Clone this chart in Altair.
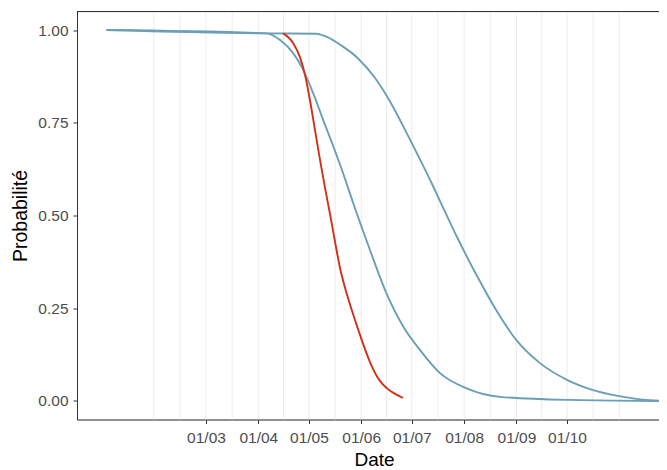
import altair as alt
import pandas as pd

# --- data ---
a_dates = ["2021-01-01", "2021-04-06", "2021-04-13T22:00:00Z", "2021-04-21T19:00:00Z",
           "2021-04-27T17:00:00Z", "2021-05-03T14:00:00Z", "2021-05-09T12:00:00Z",
           "2021-05-15T12:00:00Z", "2021-05-21T10:00:00Z", "2021-05-27T07:00:00Z",
           "2021-06-06T05:00:00Z", "2021-06-16", "2021-06-26", "2021-07-05T22:00:00Z",
           "2021-07-17T17:00:00Z", "2021-08-02T12:00:00Z", "2021-08-22T07:00:00Z",
           "2021-09-30T19:00:00Z", "2021-11-29", "2021-12-21"]
a_vals = [1.000, 0.991, 0.973, 0.937, 0.892, 0.829, 0.757, 0.686, 0.612, 0.533, 0.407, 0.290,
          0.200, 0.137, 0.075, 0.034, 0.011, 0.003, 0.000, 0.000]

b_dates = ["2021-01-01", "2021-04-05", "2021-05-05", "2021-05-12", "2021-05-20", "2021-05-30",
           "2021-06-09", "2021-06-19", "2021-06-28", "2021-07-06", "2021-07-13", "2021-07-21",
           "2021-07-28", "2021-08-09", "2021-08-20", "2021-09-01", "2021-09-15", "2021-10-01",
           "2021-10-16", "2021-11-01", "2021-11-29", "2021-12-21"]
b_vals = [1.000, 0.991, 0.990, 0.981, 0.959, 0.924, 0.872, 0.800, 0.722, 0.650, 0.585, 0.507,
          0.440, 0.334, 0.245, 0.164, 0.102, 0.057, 0.030, 0.013, 0.000, 0.000]

c_dates = ["2021-04-15T19:00:00Z", "2021-04-21T19:00:00Z", "2021-04-25T17:00:00Z",
           "2021-04-28T17:00:00Z", "2021-05-01T14:00:00Z", "2021-05-04T14:00:00Z",
           "2021-05-07T14:00:00Z", "2021-05-10T14:00:00Z", "2021-05-13T12:00:00Z",
           "2021-05-16T12:00:00Z", "2021-05-19T10:00:00Z", "2021-05-22T10:00:00Z",
           "2021-05-26T10:00:00Z", "2021-05-31T07:00:00Z", "2021-06-06T05:00:00Z",
           "2021-06-12T02:00:00Z", "2021-06-16T07:00:00Z", "2021-06-21T02:00:00Z",
           "2021-06-25T19:00:00Z"]
c_vals = [0.991, 0.964, 0.927, 0.879, 0.812, 0.731, 0.650, 0.574, 0.504, 0.429, 0.359, 0.305,
          0.245, 0.178, 0.105, 0.054, 0.034, 0.019, 0.008]

series_names = ["A", "B", "C"]
series_colors = ["#6a9fb5", "#6a9fb5", "#d62f17"]

grid_dates = ["2021-01-29", "2021-02-13T12:00:00Z", "2021-03-01", "2021-03-16T12:00:00Z",
              "2021-04-01", "2021-04-16", "2021-05-01", "2021-05-16T12:00:00Z", "2021-06-01",
              "2021-06-16", "2021-07-01", "2021-07-16T12:00:00Z", "2021-08-01",
              "2021-08-16T12:00:00Z", "2021-09-01", "2021-09-16", "2021-10-01",
              "2021-10-16T12:00:00Z", "2021-11-01"]

tick_months = [3, 4, 5, 6, 7, 8, 9, 10]
y_ticks = [0, 0.25, 0.5, 0.75, 1.0]

# --- build tables ---
rows = []
for name, ds, vs in zip(series_names, [a_dates, b_dates, c_dates], [a_vals, b_vals, c_vals]):
    for d, v in zip(ds, vs):
        rows.append({"date": d, "p": v, "serie": name})
df = pd.DataFrame(rows)
grid_df = pd.DataFrame({"date": grid_dates})

FONT = "Liberation Sans"
W, H = 582, 408

# 1.6869 px per day; plot spans page x 77 .. 659
x_scale = alt.Scale(
    type="utc",
    domain=[alt.DateTime(year=2020, month=12, date=14, hours=12, minutes=43, utc=True),
            alt.DateTime(year=2021, month=11, date=24, hours=12, minutes=48, utc=True)],
)
y_scale = alt.Scale(domain=[-0.05, 1.05], nice=False, zero=False)

x_axis = alt.Axis(
    values=[alt.DateTime(year=2021, month=m, date=1, utc=True) for m in tick_months],
    format="%d/%m", grid=False, tickSize=4, tickColor="#333333", domainColor="#333333",
    labelFont=FONT, labelFontSize=15.5, labelColor="#4d4d4d", labelBaseline="alphabetic",
    labelPadding=18.5, labelFlush=False, labelOverlap=False,
    title="Date", titleFont=FONT, titleFontSize=19, titleColor="#000000",
    titleFontWeight="normal", titleBaseline="alphabetic", titleX=297, titleY=46,
    titleAlign="center",
)
y_axis = alt.Axis(
    values=y_ticks, format=".2f", grid=False, tickSize=4, tickColor="#333333",
    domainColor="#333333", labelFont=FONT, labelFontSize=15.5, labelColor="#4d4d4d",
    labelPadding=5, title="Probabilité", titleFont=FONT, titleFontSize=19.5,
    titleColor="#000000", titleFontWeight="normal", titleBaseline="alphabetic",
    titleX=-51, titleY=204, titleAlign="center", titleAngle=270,
)

grid = alt.Chart(grid_df).mark_rule(color="#ebebeb", strokeWidth=1).encode(
    x=alt.X("date:T", scale=x_scale, axis=x_axis)
)

lines = alt.Chart(df).mark_line(strokeWidth=1.9, interpolate="monotone", clip=True).encode(
    x=alt.X("date:T", scale=x_scale, axis=x_axis),
    y=alt.Y("p:Q", scale=y_scale, axis=y_axis),
    color=alt.Color("serie:N", scale=alt.Scale(domain=series_names, range=series_colors),
                    legend=None),
)

top_border = alt.Chart(grid_df).mark_rule(color="#333333", strokeWidth=1).encode(
    x=alt.value(0), x2=alt.value(W), y=alt.value(0)
)

chart = alt.layer(grid, lines, top_border).properties(
    width=W, height=H,
    padding={"left": 69, "top": 3.5, "right": 0, "bottom": 52},
    autosize=alt.AutoSizeParams(type="none"),
).configure_view(stroke=None).configure(font=FONT)

chart.save("out.html", embed_options={"renderer": "svg", "actions": False})
